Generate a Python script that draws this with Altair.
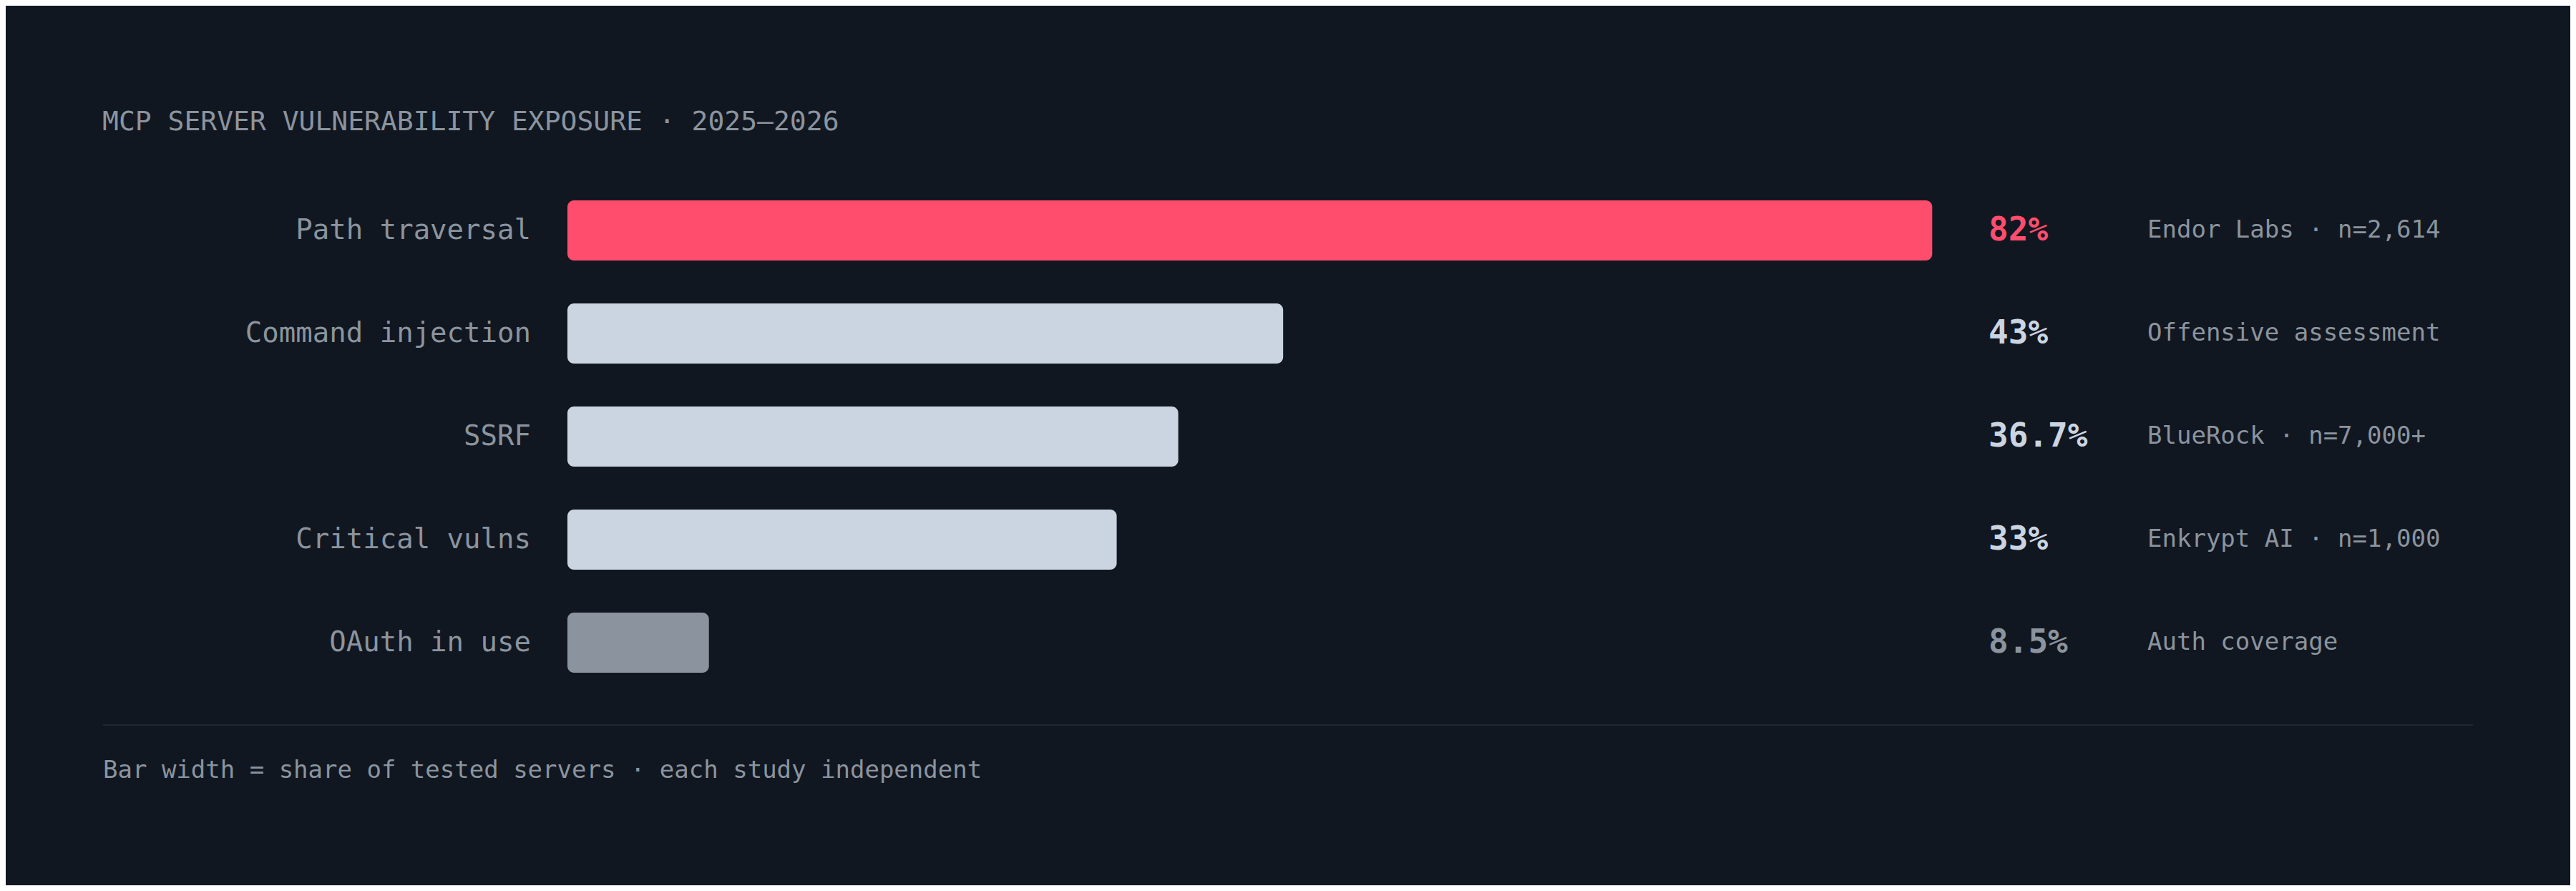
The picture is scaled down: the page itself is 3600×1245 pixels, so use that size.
import altair as alt
import pandas as pd

TITLE = "MCP SERVER VULNERABILITY EXPOSURE · 2025–2026"
FOOTER = "Bar width = share of tested servers · each study independent"

CATEGORIES = ["Path traversal", "Command injection", "SSRF", "Critical vulns", "OAuth in use"]
VALUES = [82, 43, 36.7, 33, 8.5]
SOURCES = ["Endor Labs · n=2,614", "Offensive assessment", "BlueRock · n=7,000+",
           "Enkrypt AI · n=1,000", "Auth coverage"]
TIERS = ["highlight", "standard", "standard", "standard", "low"]

BG = "#111721"
GREY = "#8b949e"
FONT = "DejaVu Sans Mono"

df = pd.DataFrame({
    "label": CATEGORIES,
    "value": VALUES,
    "source": SOURCES,
    "tier": TIERS,
    "row": list(range(len(CATEGORIES))),
})

xscale = alt.Scale(domain=[0, 100], range=[785, 3111], padding=0, nice=False, zero=True)
yscale = alt.Scale(domain=[0, 4], range=[314, 890], padding=0, nice=False, zero=False)
cscale = alt.Scale(domain=["highlight", "standard", "low"],
                   range=["#ff4d6d", "#cbd5e1", "#8b949e"])

base = alt.Chart(df)

bars = base.transform_calculate(zero="0").mark_bar(height=84, cornerRadius=9).encode(
    x=alt.X("zero:Q", scale=xscale, axis=None),
    x2="value:Q",
    y=alt.Y("row:Q", scale=yscale, axis=None),
    color=alt.Color("tier:N", scale=cscale, legend=None),
)

labels = base.mark_text(align="right", baseline="middle", font=FONT,
                        fontSize=39, color=GREY).encode(
    x=alt.value(734),
    y=alt.Y("row:Q", scale=yscale, axis=None),
    text="label:N",
)

pcts = base.transform_calculate(pct="datum.value + '%'").mark_text(
    align="left", baseline="middle", font=FONT, fontSize=46, fontWeight="bold").encode(
    x=alt.value(2771),
    y=alt.Y("row:Q", scale=yscale, axis=None),
    text="pct:N",
    color=alt.Color("tier:N", scale=cscale, legend=None),
)

sources = base.mark_text(align="left", baseline="middle", font=FONT,
                         fontSize=34, color=GREY).encode(
    x=alt.value(2993),
    y=alt.Y("row:Q", scale=yscale, axis=None),
    text="source:N",
)

title = alt.Chart(pd.DataFrame({"t": [TITLE]})).mark_text(
    align="left", baseline="alphabetic", font=FONT, fontSize=38, color=GREY).encode(
    x=alt.value(135), y=alt.value(174), text="t:N")

footer = alt.Chart(pd.DataFrame({"t": [FOOTER]})).mark_text(
    align="left", baseline="alphabetic", font=FONT, fontSize=34, color=GREY).encode(
    x=alt.value(136), y=alt.value(1079), text="t:N")

divider = alt.Chart(pd.DataFrame({"d": [0]})).mark_rule(
    color="#1f2733", strokeWidth=2).encode(
    x=alt.value(136), x2=alt.value(3448), y=alt.value(1005))

chart = alt.layer(bars, labels, pcts, sources, title, footer, divider).properties(
    width=3584, height=1229,
    autosize=alt.AutoSizeParams(type="none"),
    padding=0,
    background=BG,
).configure_view(stroke=None)

chart.save("out.html", embed_options={"renderer": "svg", "actions": False})
